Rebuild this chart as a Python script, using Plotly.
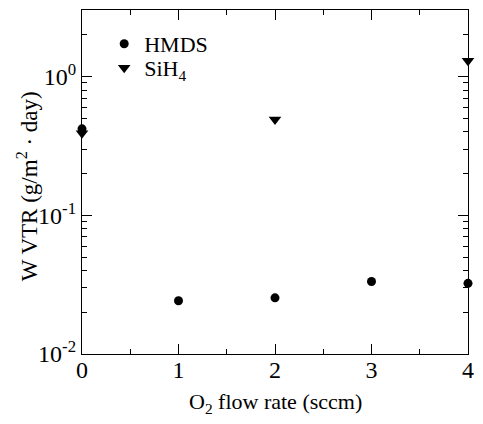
import plotly.graph_objects as go

# O2 flow rate (sccm) and measured water vapour transmission rate
hmds_flow = [0, 1, 2, 3, 4]
hmds_wvtr = [0.42, 0.0242, 0.0254, 0.0333, 0.0323]

sih4_flow = [0, 2, 4]
sih4_wvtr = [0.39, 0.49, 1.30]

y_tick_vals = [0.01, 0.1, 1]
y_tick_text = ["10<sup>-2</sup>", "10<sup>-1</sup>", "10<sup>0</sup>"]
x_tick_vals = [0, 1, 2, 3, 4]

minor_y = [m * 10 ** e for e in (-2, -1, 0) for m in range(2, 10)]

FONT = "Liberation Serif"
W, H = 483, 424
ML, MR, MT, MB = 82, 10, 9, 70
PW, PH = W - ML - MR, H - MT - MB

fig = go.Figure()
fig.add_trace(go.Scatter(
    x=hmds_flow, y=hmds_wvtr, mode="markers", name="HMDS",
    marker=dict(symbol="circle", size=9, color="black"),
    cliponaxis=False, legend="legend",
))
fig.add_trace(go.Scatter(
    x=sih4_flow, y=sih4_wvtr, mode="markers", name="SiH<sub>4</sub>",
    marker=dict(symbol="triangle-down", size=11, color="black"),
    cliponaxis=False, legend="legend2",
))

axis_common = dict(
    showline=True, linecolor="black", linewidth=1.2, mirror="ticks",
    ticks="inside", tickcolor="black", tickwidth=1, showgrid=False,
    zeroline=False,
    tickfont=dict(family=FONT, size=24, color="black"),
)

fig.update_xaxes(
    range=[0, 4], tickvals=x_tick_vals, ticklen=10, ticklabelstandoff=-6,
    minor=dict(ticks="inside", dtick=0.5, ticklen=5, tickcolor="black", showgrid=False),
    **axis_common,
)
fig.update_yaxes(
    type="log", range=[-2, 0.48], tickvals=y_tick_vals, ticktext=y_tick_text, ticklen=10,
    minor=dict(ticks="inside", tickvals=minor_y, ticklen=5, tickcolor="black", showgrid=False),
    **axis_common,
)

# axis titles placed as paper annotations
fig.add_annotation(
    text="O<sub>2</sub> flow rate (sccm)", xref="paper", yref="paper",
    x=0.5, y=-(403 - MT - PH) / PH, xanchor="center", yanchor="middle",
    showarrow=False, font=dict(family=FONT, size=22, color="black"),
)
fig.add_annotation(
    text="W VTR (g/m<sup>2</sup> · day)", xref="paper", yref="paper",
    x=-(ML - 27) / PW, y=1 - (186 - MT) / PH, xanchor="center", yanchor="middle",
    textangle=-90, showarrow=False, font=dict(family=FONT, size=23, color="black"),
)

legend_style = dict(
    xanchor="left", yanchor="middle",
    font=dict(family=FONT, size=22, color="black"),
    bgcolor="rgba(0,0,0,0)", itemwidth=30,
)

fig.update_layout(
    width=W, height=H,
    margin=dict(l=ML, r=MR, t=MT, b=MB),
    paper_bgcolor="white", plot_bgcolor="white",
    showlegend=True,
    legend=dict(x=0.0575, y=1 - (43 - MT) / PH, **legend_style),
    legend2=dict(x=0.0575, y=1 - (67 - MT) / PH, **legend_style),
)

fig.write_html("out.html")
